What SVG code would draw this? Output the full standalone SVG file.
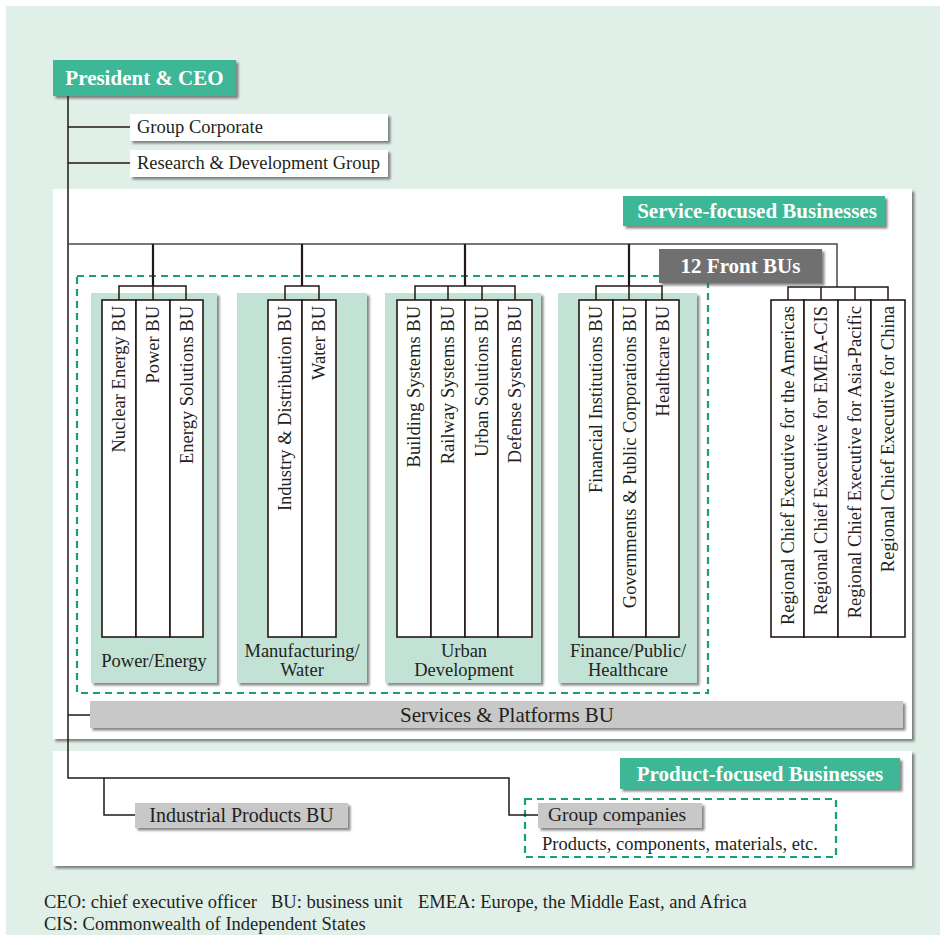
<svg xmlns="http://www.w3.org/2000/svg" width="944" height="935" viewBox="0 0 944 935" font-family="'Liberation Serif', 'Times New Roman', serif">
<defs>
<filter id="sh" x="-10%" y="-10%" width="130%" height="140%">
<feDropShadow dx="2.5" dy="2.5" stdDeviation="1.2" flood-color="#555" flood-opacity="0.7"/>
</filter>
<style>
text{font-family:"Liberation Serif","Times New Roman",serif;fill:#231f20;font-size:18.5px}
.hd{font-weight:bold;fill:#fff;font-size:21px}
.teal{fill:#3db795}
.dark{fill:#6f6f6f}
.gray{fill:#c8c8c8}
.panel{fill:#c1e2d5}
.wbox{fill:#fff}
.bu{fill:#fff;stroke:#231815;stroke-width:1.6}
.ln{fill:none;stroke:#231815;stroke-width:1.5}
.lnb{fill:none;stroke:#231815;stroke-width:2.2}
.lng{fill:none;stroke:#4a4a4a;stroke-width:1.5}
.dash{fill:none;stroke:#17a078;stroke-width:2.2;stroke-dasharray:7,5}
.v{text-anchor:end}
.c{text-anchor:middle}
</style>
</defs>
<rect x="0" y="0" width="944" height="935" fill="#ffffff"/>
<rect x="6" y="6" width="934" height="929" fill="#e0efe8"/>

<g id="service-panel">
<rect x="53" y="189" width="859" height="550" class="wbox" filter="url(#sh)"/>
</g>
<g id="product-panel">
<rect x="53" y="751" width="859" height="115" class="wbox" filter="url(#sh)"/>
</g>

<g id="ceo">
<rect x="53" y="60" width="183" height="36" class="teal" filter="url(#sh)"/>
<text x="144.5" y="85" class="hd c">President &amp; CEO</text>
</g>
<g id="group-corporate">
<rect x="130" y="114" width="258" height="27" class="wbox" filter="url(#sh)"/>
<text x="137" y="133">Group Corporate</text>
</g>
<g id="rd-group">
<rect x="130" y="150" width="258" height="27" class="wbox" filter="url(#sh)"/>
<text x="137" y="169">Research &amp; Development Group</text>
</g>
<g id="service-label">
<rect x="623" y="196" width="262" height="30" class="teal" filter="url(#sh)"/>
<text x="757" y="218" class="hd c">Service-focused Businesses</text>
</g>

<g id="power-energy">
<rect x="91" y="293" width="126" height="390" class="panel" filter="url(#sh)"/>
<rect x="102" y="300" width="34" height="337" class="bu"/>
<rect x="136" y="300" width="34" height="337" class="bu"/>
<rect x="170" y="300" width="33" height="337" class="bu"/>
<text transform="translate(125,306) rotate(-90)" class="v">Nuclear Energy BU</text>
<text transform="translate(159,306) rotate(-90)" class="v">Power BU</text>
<text transform="translate(192.5,306) rotate(-90)" class="v">Energy Solutions BU</text>
<text x="154" y="667" class="c">Power/Energy</text>
</g>
<g id="manufacturing-water">
<rect x="237" y="293" width="130" height="390" class="panel" filter="url(#sh)"/>
<rect x="268" y="300" width="34" height="337" class="bu"/>
<rect x="302" y="300" width="34" height="337" class="bu"/>
<text transform="translate(291,306) rotate(-90)" class="v">Industry &amp; Distribution BU</text>
<text transform="translate(325,306) rotate(-90)" class="v">Water BU</text>
<text x="302" y="657" class="c">Manufacturing/</text>
<text x="302" y="676" class="c">Water</text>
</g>
<g id="urban-development">
<rect x="385" y="293" width="156" height="390" class="panel" filter="url(#sh)"/>
<rect x="397" y="300" width="34" height="337" class="bu"/>
<rect x="431" y="300" width="34" height="337" class="bu"/>
<rect x="465" y="300" width="33" height="337" class="bu"/>
<rect x="498" y="300" width="34" height="337" class="bu"/>
<text transform="translate(420,306) rotate(-90)" class="v">Building Systems BU</text>
<text transform="translate(454,306) rotate(-90)" class="v">Railway Systems BU</text>
<text transform="translate(487.5,306) rotate(-90)" class="v">Urban Solutions BU</text>
<text transform="translate(521,306) rotate(-90)" class="v">Defense Systems BU</text>
<text x="464" y="657" class="c">Urban</text>
<text x="464" y="676" class="c">Development</text>
</g>
<g id="finance-public-healthcare">
<rect x="558" y="293" width="139" height="390" class="panel" filter="url(#sh)"/>
<rect x="579" y="300" width="34" height="337" class="bu"/>
<rect x="613" y="300" width="33" height="337" class="bu"/>
<rect x="646" y="300" width="33" height="337" class="bu"/>
<text transform="translate(602,306) rotate(-90)" class="v">Financial Institutions BU</text>
<text transform="translate(635.5,306) rotate(-90)" class="v">Governments &amp; Public Corporations BU</text>
<text transform="translate(668.5,306) rotate(-90)" class="v">Healthcare BU</text>
<text x="628" y="657" class="c">Finance/Public/</text>
<text x="628" y="676" class="c">Healthcare</text>
</g>

<g id="regional">
<rect x="771" y="300" width="33" height="337" class="bu"/>
<rect x="804" y="300" width="34" height="337" class="bu"/>
<rect x="838" y="300" width="33" height="337" class="bu"/>
<rect x="871" y="300" width="34" height="337" class="bu"/>
<text transform="translate(793.5,306) rotate(-90)" class="v">Regional Chief Executive for the Americas</text>
<text transform="translate(827,306) rotate(-90)" class="v">Regional Chief Executive for EMEA-CIS</text>
<text transform="translate(860.5,306) rotate(-90)" class="v">Regional Chief Executive for Asia-Pacific</text>
<text transform="translate(894,306) rotate(-90)" class="v">Regional Chief Executive for China</text>
</g>

<g id="front-bus">
<rect x="77" y="276" width="631" height="417" class="dash"/>
<rect x="659" y="249" width="163" height="34" class="dark" filter="url(#sh)"/>
<text x="740.5" y="273" class="hd c">12 Front BUs</text>
</g>

<g id="services-platforms">
<rect x="90" y="701" width="813" height="27" class="gray" filter="url(#sh)"/>
<text x="507" y="722" class="c" style="font-size:21px">Services &amp; Platforms BU</text>
</g>

<g id="product-label">
<rect x="620" y="758" width="280" height="31" class="teal" filter="url(#sh)"/>
<text x="760" y="781" class="hd c">Product-focused Businesses</text>
</g>
<g id="industrial-products">
<rect x="135" y="803" width="213" height="25" class="gray" filter="url(#sh)"/>
<text x="241.5" y="822" class="c" style="font-size:20px">Industrial Products BU</text>
</g>
<g id="group-companies">
<rect x="525" y="799" width="311" height="58" class="dash"/>
<rect x="538" y="803" width="164" height="25" class="gray" filter="url(#sh)"/>
<text x="548" y="821" style="font-size:19.5px">Group companies</text>
<text x="542" y="850">Products, components, materials, etc.</text>
</g>

<g id="connectors">
<path class="ln" d="M68 96V778H509V815H538M104 778V815H135"/>
<path class="ln" d="M68 127H130M68 163H130M68 715H90"/>
<path class="lng" d="M68 244H837V287"/>
<path class="lnb" d="M153 244V286M302 244V286M465 244V286M629 244V286"/>
<path class="ln" d="M119 300V286H186V300M153 286V300"/>
<path class="ln" d="M285 300V286H319V300"/>
<path class="ln" d="M415 300V286H515V300M448 286V300M482 286V300"/>
<path class="ln" d="M596 300V286H662V300M629 286V300"/>
<path class="ln" d="M788 300V287H888V300M821 287V300M855 287V300"/>
</g>

<g id="footnotes">
<text x="44" y="908">CEO: chief executive officer</text>
<text x="271" y="908">BU: business unit</text>
<text x="418" y="908">EMEA: Europe, the Middle East, and Africa</text>
<text x="44" y="930">CIS: Commonwealth of Independent States</text>
</g>
</svg>
